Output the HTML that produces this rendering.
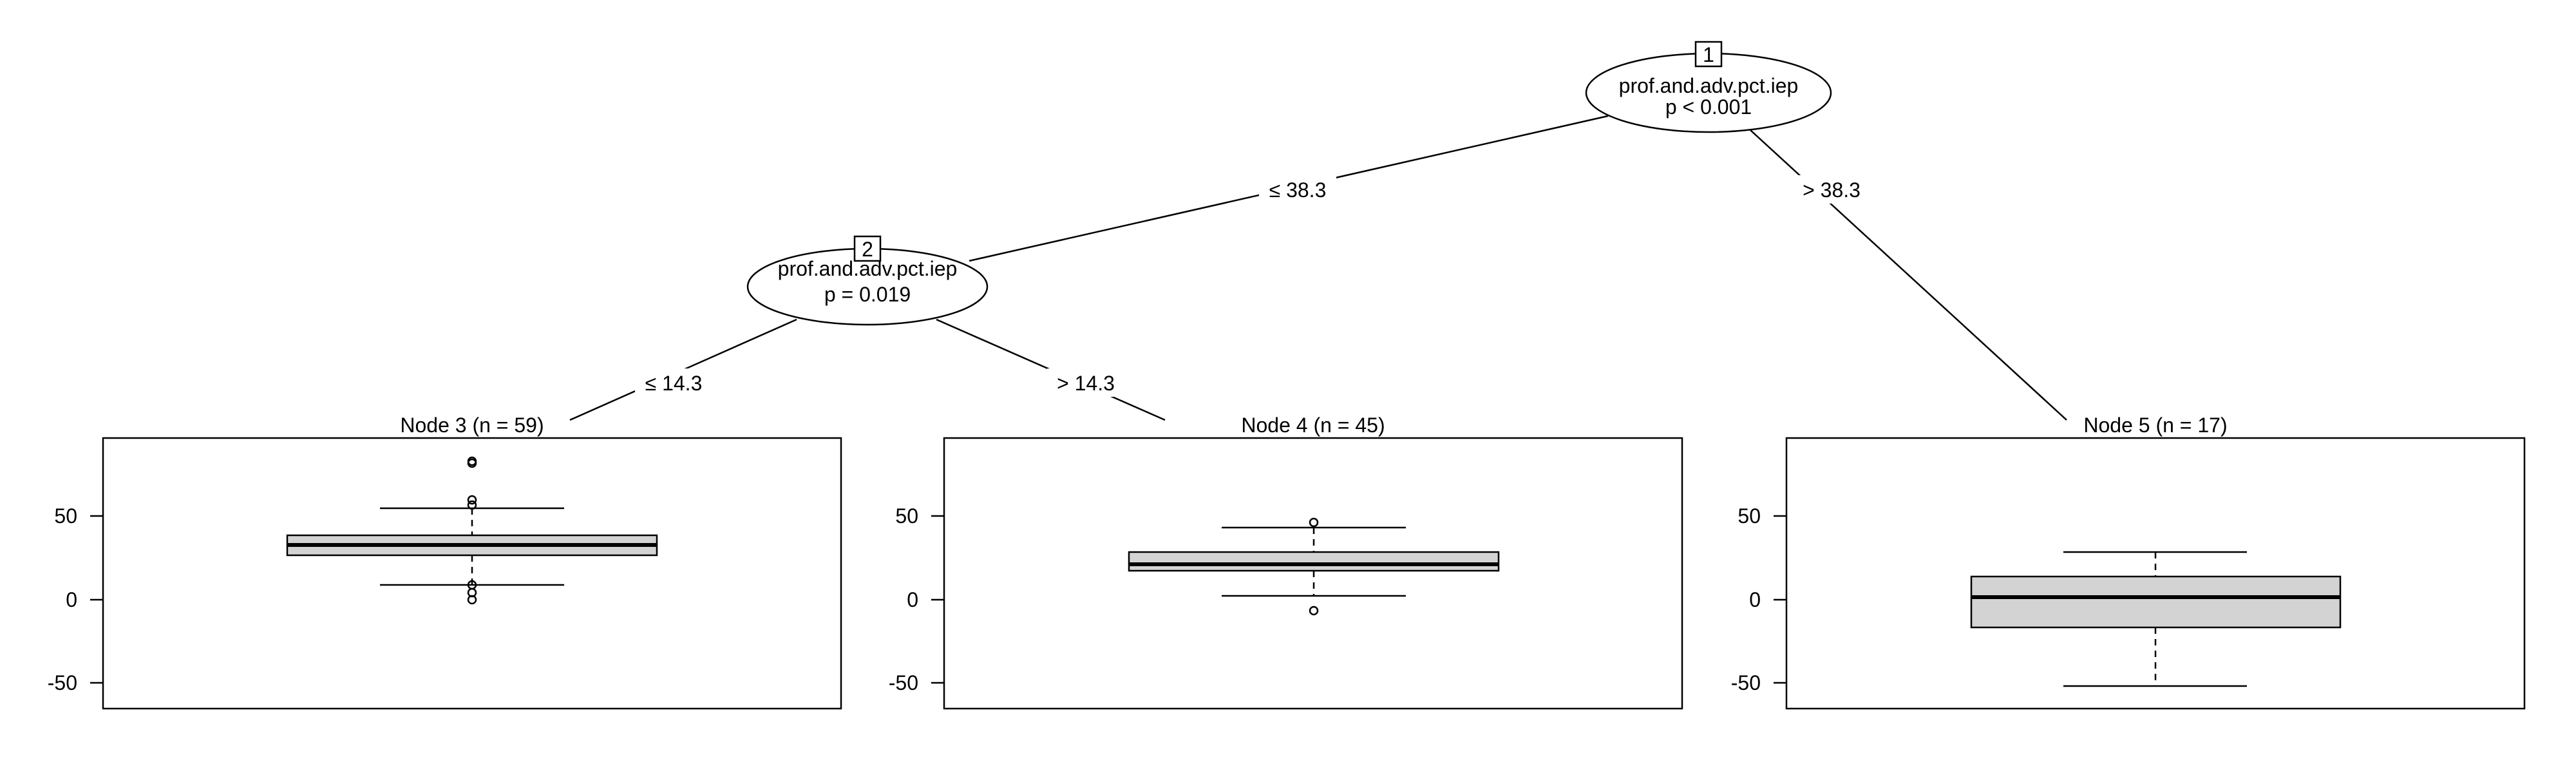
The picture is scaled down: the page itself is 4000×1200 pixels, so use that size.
<!DOCTYPE html>
<html><head><meta charset="utf-8"><style>
html,body{margin:0;padding:0;background:#fff;}
svg{display:block;}
text{font-family:"Liberation Sans",Arial,sans-serif;font-size:32px;fill:#000;}
</style></head><body>
<svg width="4000" height="1200" viewBox="0 0 4000 1200" xmlns="http://www.w3.org/2000/svg">
<g stroke="#000" stroke-width="2.5" fill="none">
<line x1="2497" y1="180" x2="1505" y2="405"/>
<line x1="2718" y1="202" x2="3209" y2="652"/>
<line x1="1237" y1="496" x2="885" y2="652"/>
<line x1="1454" y1="496" x2="1809" y2="652"/>
</g>
<g fill="#fff">
<rect x="1955" y="272" width="120" height="44"/>
<rect x="2784" y="272" width="120" height="44"/>
<rect x="986" y="572" width="120" height="44"/>
<rect x="1626" y="572" width="120" height="44"/>
</g>
<text x="2015" y="306" text-anchor="middle">≤ 38.3</text>
<text x="2844" y="306" text-anchor="middle">&gt; 38.3</text>
<text x="1046" y="606" text-anchor="middle">≤ 14.3</text>
<text x="1686" y="606" text-anchor="middle">&gt; 14.3</text>

<ellipse cx="2653" cy="144" rx="190" ry="61" fill="#fff" stroke="#000" stroke-width="2.5"/>
<rect x="2633" y="65" width="40" height="38" fill="#fff" stroke="#000" stroke-width="2.5"/>
<text x="2653" y="96" text-anchor="middle">1</text>
<text x="2653" y="144" text-anchor="middle">prof.and.adv.pct.iep</text>
<text x="2653" y="177" text-anchor="middle">p &lt; 0.001</text>

<ellipse cx="1347" cy="445" rx="186" ry="59" fill="#fff" stroke="#000" stroke-width="2.5"/>
<rect x="1327" y="367" width="40" height="38" fill="#fff" stroke="#000" stroke-width="2.5"/>
<text x="1347" y="398" text-anchor="middle">2</text>
<text x="1347" y="428" text-anchor="middle">prof.and.adv.pct.iep</text>
<text x="1347" y="468" text-anchor="middle">p = 0.019</text>

<!-- panels -->
<g stroke="#000" stroke-width="2.5" fill="none">
<rect x="160" y="680" width="1146" height="420"/>
<rect x="1466" y="680" width="1146" height="420"/>
<rect x="2774" y="680" width="1146" height="420"/>
<line x1="140" y1="801" x2="160" y2="801"/><line x1="140" y1="931" x2="160" y2="931"/><line x1="140" y1="1060" x2="160" y2="1060"/>
<line x1="1446" y1="801" x2="1466" y2="801"/><line x1="1446" y1="931" x2="1466" y2="931"/><line x1="1446" y1="1060" x2="1466" y2="1060"/>
<line x1="2754" y1="801" x2="2774" y2="801"/><line x1="2754" y1="931" x2="2774" y2="931"/><line x1="2754" y1="1060" x2="2774" y2="1060"/>
</g>
<g text-anchor="end">
<text x="120" y="812">50</text><text x="120" y="942">0</text><text x="120" y="1071">-50</text>
<text x="1426" y="812">50</text><text x="1426" y="942">0</text><text x="1426" y="1071">-50</text>
<text x="2734" y="812">50</text><text x="2734" y="942">0</text><text x="2734" y="1071">-50</text>
</g>
<text x="733" y="671" text-anchor="middle">Node 3 (n = 59)</text>
<text x="2039" y="671" text-anchor="middle">Node 4 (n = 45)</text>
<text x="3347" y="671" text-anchor="middle">Node 5 (n = 17)</text>

<!-- Node 3 -->
<g stroke="#000" stroke-width="2.5" fill="none">
<line x1="733" y1="789" x2="733" y2="831" stroke-dasharray="10,8"/>
<line x1="733" y1="862" x2="733" y2="908" stroke-dasharray="10,8"/>
<line x1="590" y1="789" x2="876" y2="789"/>
<line x1="590" y1="908" x2="876" y2="908"/>
<rect x="446" y="831" width="574" height="31" fill="#d3d3d3"/>
<line x1="446" y1="846" x2="1020" y2="846" stroke-width="6"/>
<circle cx="733" cy="716" r="6"/><circle cx="733" cy="719" r="6"/>
<circle cx="733" cy="776" r="6"/><circle cx="733" cy="784" r="6"/>
<circle cx="733" cy="908" r="6"/><circle cx="733" cy="920" r="6"/><circle cx="733" cy="931" r="6"/>
</g>
<!-- Node 4 -->
<g stroke="#000" stroke-width="2.5" fill="none">
<line x1="2040" y1="819" x2="2040" y2="857" stroke-dasharray="10,8"/>
<line x1="2040" y1="886" x2="2040" y2="925" stroke-dasharray="10,8"/>
<line x1="1897" y1="819" x2="2183" y2="819"/>
<line x1="1897" y1="925" x2="2183" y2="925"/>
<rect x="1753" y="857" width="574" height="29" fill="#d3d3d3"/>
<line x1="1753" y1="876" x2="2327" y2="876" stroke-width="6"/>
<circle cx="2040" cy="811" r="6"/><circle cx="2040" cy="948" r="6"/>
</g>
<!-- Node 5 -->
<g stroke="#000" stroke-width="2.5" fill="none">
<line x1="3347" y1="857" x2="3347" y2="895" stroke-dasharray="10,8"/>
<line x1="3347" y1="974" x2="3347" y2="1065" stroke-dasharray="10,8"/>
<line x1="3204" y1="857" x2="3489" y2="857"/>
<line x1="3204" y1="1065" x2="3489" y2="1065"/>
<rect x="3061" y="895" width="573" height="79" fill="#d3d3d3"/>
<line x1="3061" y1="927" x2="3634" y2="927" stroke-width="6"/>
</g>
</svg>
</body></html>
